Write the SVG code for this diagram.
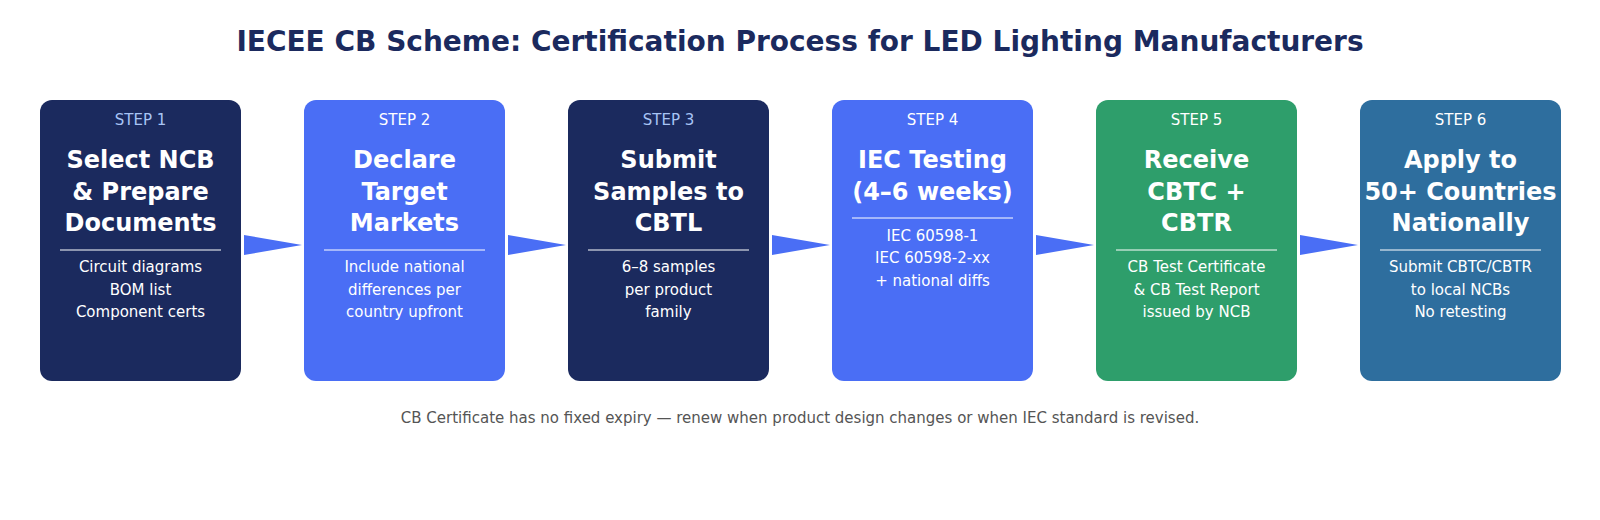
<svg xmlns="http://www.w3.org/2000/svg" width="1600" height="520" viewBox="0 0 1600 520">
<style>
text{font-family:"DejaVu Sans",sans-serif;text-anchor:middle}
.t{font-size:28px;font-weight:bold;fill:#1b2a5e}
.s{font-size:15px;fill:#ffffff}
.sn{fill:#a8c4f5}
.h{font-size:24px;font-weight:bold;fill:#fff}
.b{font-size:15px;fill:#fff}
.d{stroke:#fff;stroke-width:1}
.f{font-size:15px;fill:#555}
.ar{fill:#4a6ef5}
</style>
<rect width="1600" height="520" fill="#fff"/>
<text class="t" x="800" y="51">IECEE CB Scheme: Certification Process for LED Lighting Manufacturers</text>
<g id="connectors">
<polygon class="ar" points="244,235 302,245 244,255"/>
<polygon class="ar" points="508,235 566,245 508,255"/>
<polygon class="ar" points="772,235 830,245 772,255"/>
<polygon class="ar" points="1036,235 1094,245 1036,255"/>
<polygon class="ar" points="1300,235 1358,245 1300,255"/>
</g>
<g id="step1">
<rect x="40" y="100" width="201" height="281" rx="12" fill="#1b2a5e"/>
<text class="s sn" x="140.5" y="125">STEP 1</text>
<text class="h" x="140.5" y="168">Select NCB</text><text class="h" x="140.5" y="200">&amp; Prepare</text><text class="h" x="140.5" y="231">Documents</text>
<line class="d" x1="60" y1="250" x2="221" y2="250"/>
<text class="b" x="140.5" y="272">Circuit diagrams</text><text class="b" x="140.5" y="295">BOM list</text><text class="b" x="140.5" y="317">Component certs</text>
</g>
<g id="step2">
<rect x="304" y="100" width="201" height="281" rx="12" fill="#4a6ef5"/>
<text class="s" x="404.5" y="125">STEP 2</text>
<text class="h" x="404.5" y="168">Declare</text><text class="h" x="404.5" y="200">Target</text><text class="h" x="404.5" y="231">Markets</text>
<line class="d" x1="324" y1="250" x2="485" y2="250"/>
<text class="b" x="404.5" y="272">Include national</text><text class="b" x="404.5" y="295">differences per</text><text class="b" x="404.5" y="317">country upfront</text>
</g>
<g id="step3">
<rect x="568" y="100" width="201" height="281" rx="12" fill="#1b2a5e"/>
<text class="s sn" x="668.5" y="125">STEP 3</text>
<text class="h" x="668.5" y="168">Submit</text><text class="h" x="668.5" y="200">Samples to</text><text class="h" x="668.5" y="231">CBTL</text>
<line class="d" x1="588" y1="250" x2="749" y2="250"/>
<text class="b" x="668.5" y="272">6–8 samples</text><text class="b" x="668.5" y="295">per product</text><text class="b" x="668.5" y="317">family</text>
</g>
<g id="step4">
<rect x="832" y="100" width="201" height="281" rx="12" fill="#4a6ef5"/>
<text class="s" x="932.5" y="125">STEP 4</text>
<text class="h" x="932.5" y="168">IEC Testing</text><text class="h" x="932.5" y="200">(4–6 weeks)</text>
<line class="d" x1="852" y1="218" x2="1013" y2="218"/>
<text class="b" x="932.5" y="241">IEC 60598-1</text><text class="b" x="932.5" y="263">IEC 60598-2-xx</text><text class="b" x="932.5" y="286">+ national diffs</text>
</g>
<g id="step5">
<rect x="1096" y="100" width="201" height="281" rx="12" fill="#2e9e6b"/>
<text class="s" x="1196.5" y="125">STEP 5</text>
<text class="h" x="1196.5" y="168">Receive</text><text class="h" x="1196.5" y="200">CBTC +</text><text class="h" x="1196.5" y="231">CBTR</text>
<line class="d" x1="1116" y1="250" x2="1277" y2="250"/>
<text class="b" x="1196.5" y="272">CB Test Certificate</text><text class="b" x="1196.5" y="295">&amp; CB Test Report</text><text class="b" x="1196.5" y="317">issued by NCB</text>
</g>
<g id="step6">
<rect x="1360" y="100" width="201" height="281" rx="12" fill="#2e6e9e"/>
<text class="s" x="1460.5" y="125">STEP 6</text>
<text class="h" x="1460.5" y="168">Apply to</text><text class="h" x="1460.5" y="200">50+ Countries</text><text class="h" x="1460.5" y="231">Nationally</text>
<line class="d" x1="1380" y1="250" x2="1541" y2="250"/>
<text class="b" x="1460.5" y="272">Submit CBTC/CBTR</text><text class="b" x="1460.5" y="295">to local NCBs</text><text class="b" x="1460.5" y="317">No retesting</text>
</g>
<text class="f" x="800" y="423">CB Certificate has no fixed expiry — renew when product design changes or when IEC standard is revised.</text>
</svg>
